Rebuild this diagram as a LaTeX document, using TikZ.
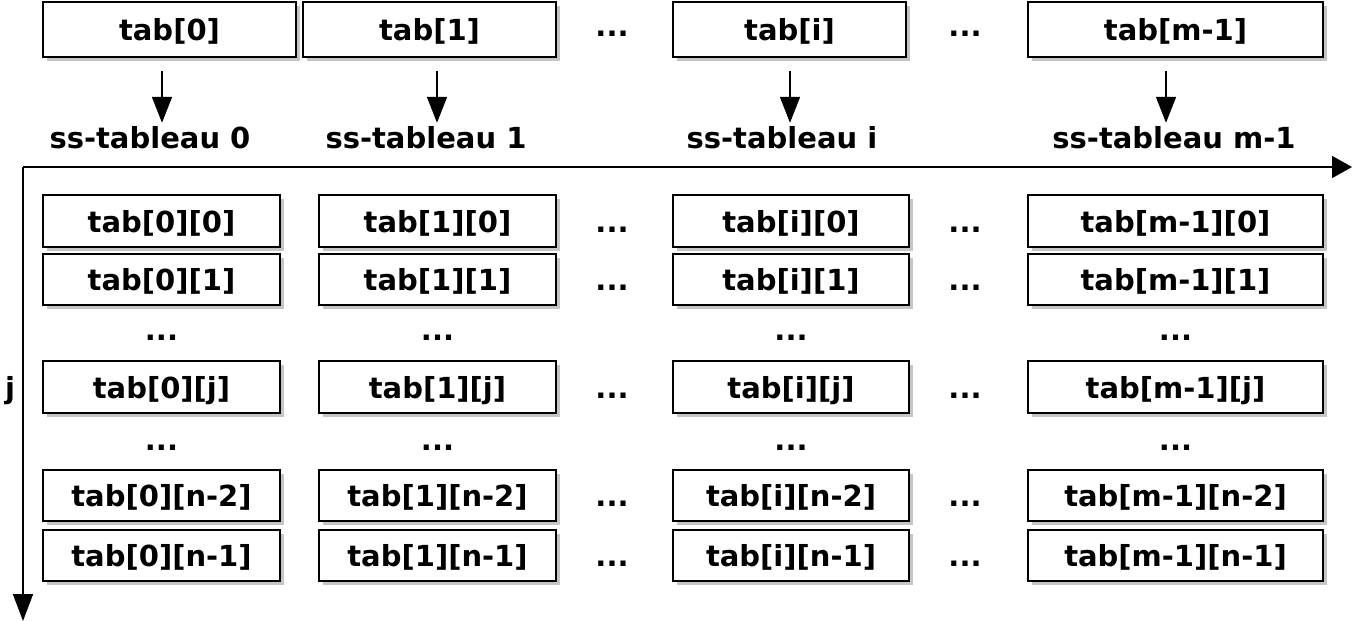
\documentclass[tikz,border=0pt]{standalone}
\usepackage{fontspec}
\setmainfont{DejaVu Sans}
\usetikzlibrary{arrows.meta,shadows}
\begin{document}
\begin{tikzpicture}[x=1pt,y=-1pt,
  font=\fontsize{29}{35}\selectfont\bfseries,
  cell/.style={draw=black, line width=1.9pt, fill=white, inner sep=0pt,
    text height=25pt, text depth=3pt,
    drop shadow={shadow xshift=3.5pt, shadow yshift=-4pt, opacity=0.45}},
  lbl/.style={inner sep=0pt, text height=25pt, text depth=3pt},
  arr/.style={line width=1.7pt, -{Triangle[length=26pt,width=20pt]}},
  axis/.style={line width=1.7pt}]
\useasboundingbox (0,0) rectangle (1352,621);
\fill[white] (0,0) rectangle (1352,621);

% top row
\node[cell, minimum width=253pt, minimum height=55pt] (t0) at (169.5,29.5) {tab[0]};
\node[cell, minimum width=253pt, minimum height=55pt] (t1) at (429.5,29.5) {tab[1]};
\node[cell, minimum width=233pt, minimum height=55pt] (ti) at (789.5,29.5) {tab[i]};
\node[cell, minimum width=295pt, minimum height=55pt] (tm) at (1175.5,29.5) {tab[m-1]};
\node[lbl] (td1) at (612,25) {...};
\node[lbl] (td2) at (965,25) {...};

% sub-array labels
\node[lbl, anchor=base] (s0) at (150,148) {ss-tableau 0};
\node[lbl, anchor=base] (s1) at (426,148) {ss-tableau 1};
\node[lbl, anchor=base] (si) at (782,148) {ss-tableau i};
\node[lbl, anchor=base] (sm) at (1174,148) {ss-tableau m-1};

\coordinate (a0) at ([xshift=-7.5pt]t0.south);
\coordinate (a1) at ([xshift=7.5pt]t1.south);
\coordinate (ai) at ([xshift=0.5pt]ti.south);
\coordinate (am) at ([xshift=-9.5pt]tm.south);
\draw[arr] ([yshift=-13pt]a0) -- (a0 |- s0.north);
\draw[arr] ([yshift=-13pt]a1) -- (a1 |- s1.north);
\draw[arr] ([yshift=-13pt]ai) -- (ai |- si.north);
\draw[arr] ([yshift=-13pt]am) -- (am |- sm.north);

% axes
\coordinate (o) at (23,167);
\coordinate (xe) at (1352,167);
\coordinate (ye) at (23,621);
\draw[axis, -{Triangle[length=20pt,width=22pt]}] (o) -- (xe);
\draw[axis, -{Triangle[length=27pt,width=20pt]}] (o) -- (ye);
\node[lbl] (jl) at (10,387) {j};

% grid
\foreach \c/\xc/\w/\lab in {0/161.5/237/0, 1/437.5/237/1, 2/791/236/i, 3/1175.5/295/m-1}{
  \foreach \r/\yc/\h/\rl in {0/221/52/0, 1/279.5/51/1, j/387/52/j, n2/495.5/51/n-2, n1/555.5/51/n-1}{
    \node[cell, minimum width=\w pt, minimum height=\h pt] (g\c\r) at (\xc,\yc) {tab[\lab][\rl]};
  }
  \node[lbl] (vd\c a) at (\xc,329) {...};
  \node[lbl] (vd\c b) at (\xc,439) {...};
}
\foreach \r/\yc in {0/221, 1/279.5, j/387, n2/495.5, n1/555.5}{
  \node[lbl] (hd1\r) at (612,\yc) {...};
  \node[lbl] (hd2\r) at (965,\yc) {...};
}
\end{tikzpicture}
\end{document}
